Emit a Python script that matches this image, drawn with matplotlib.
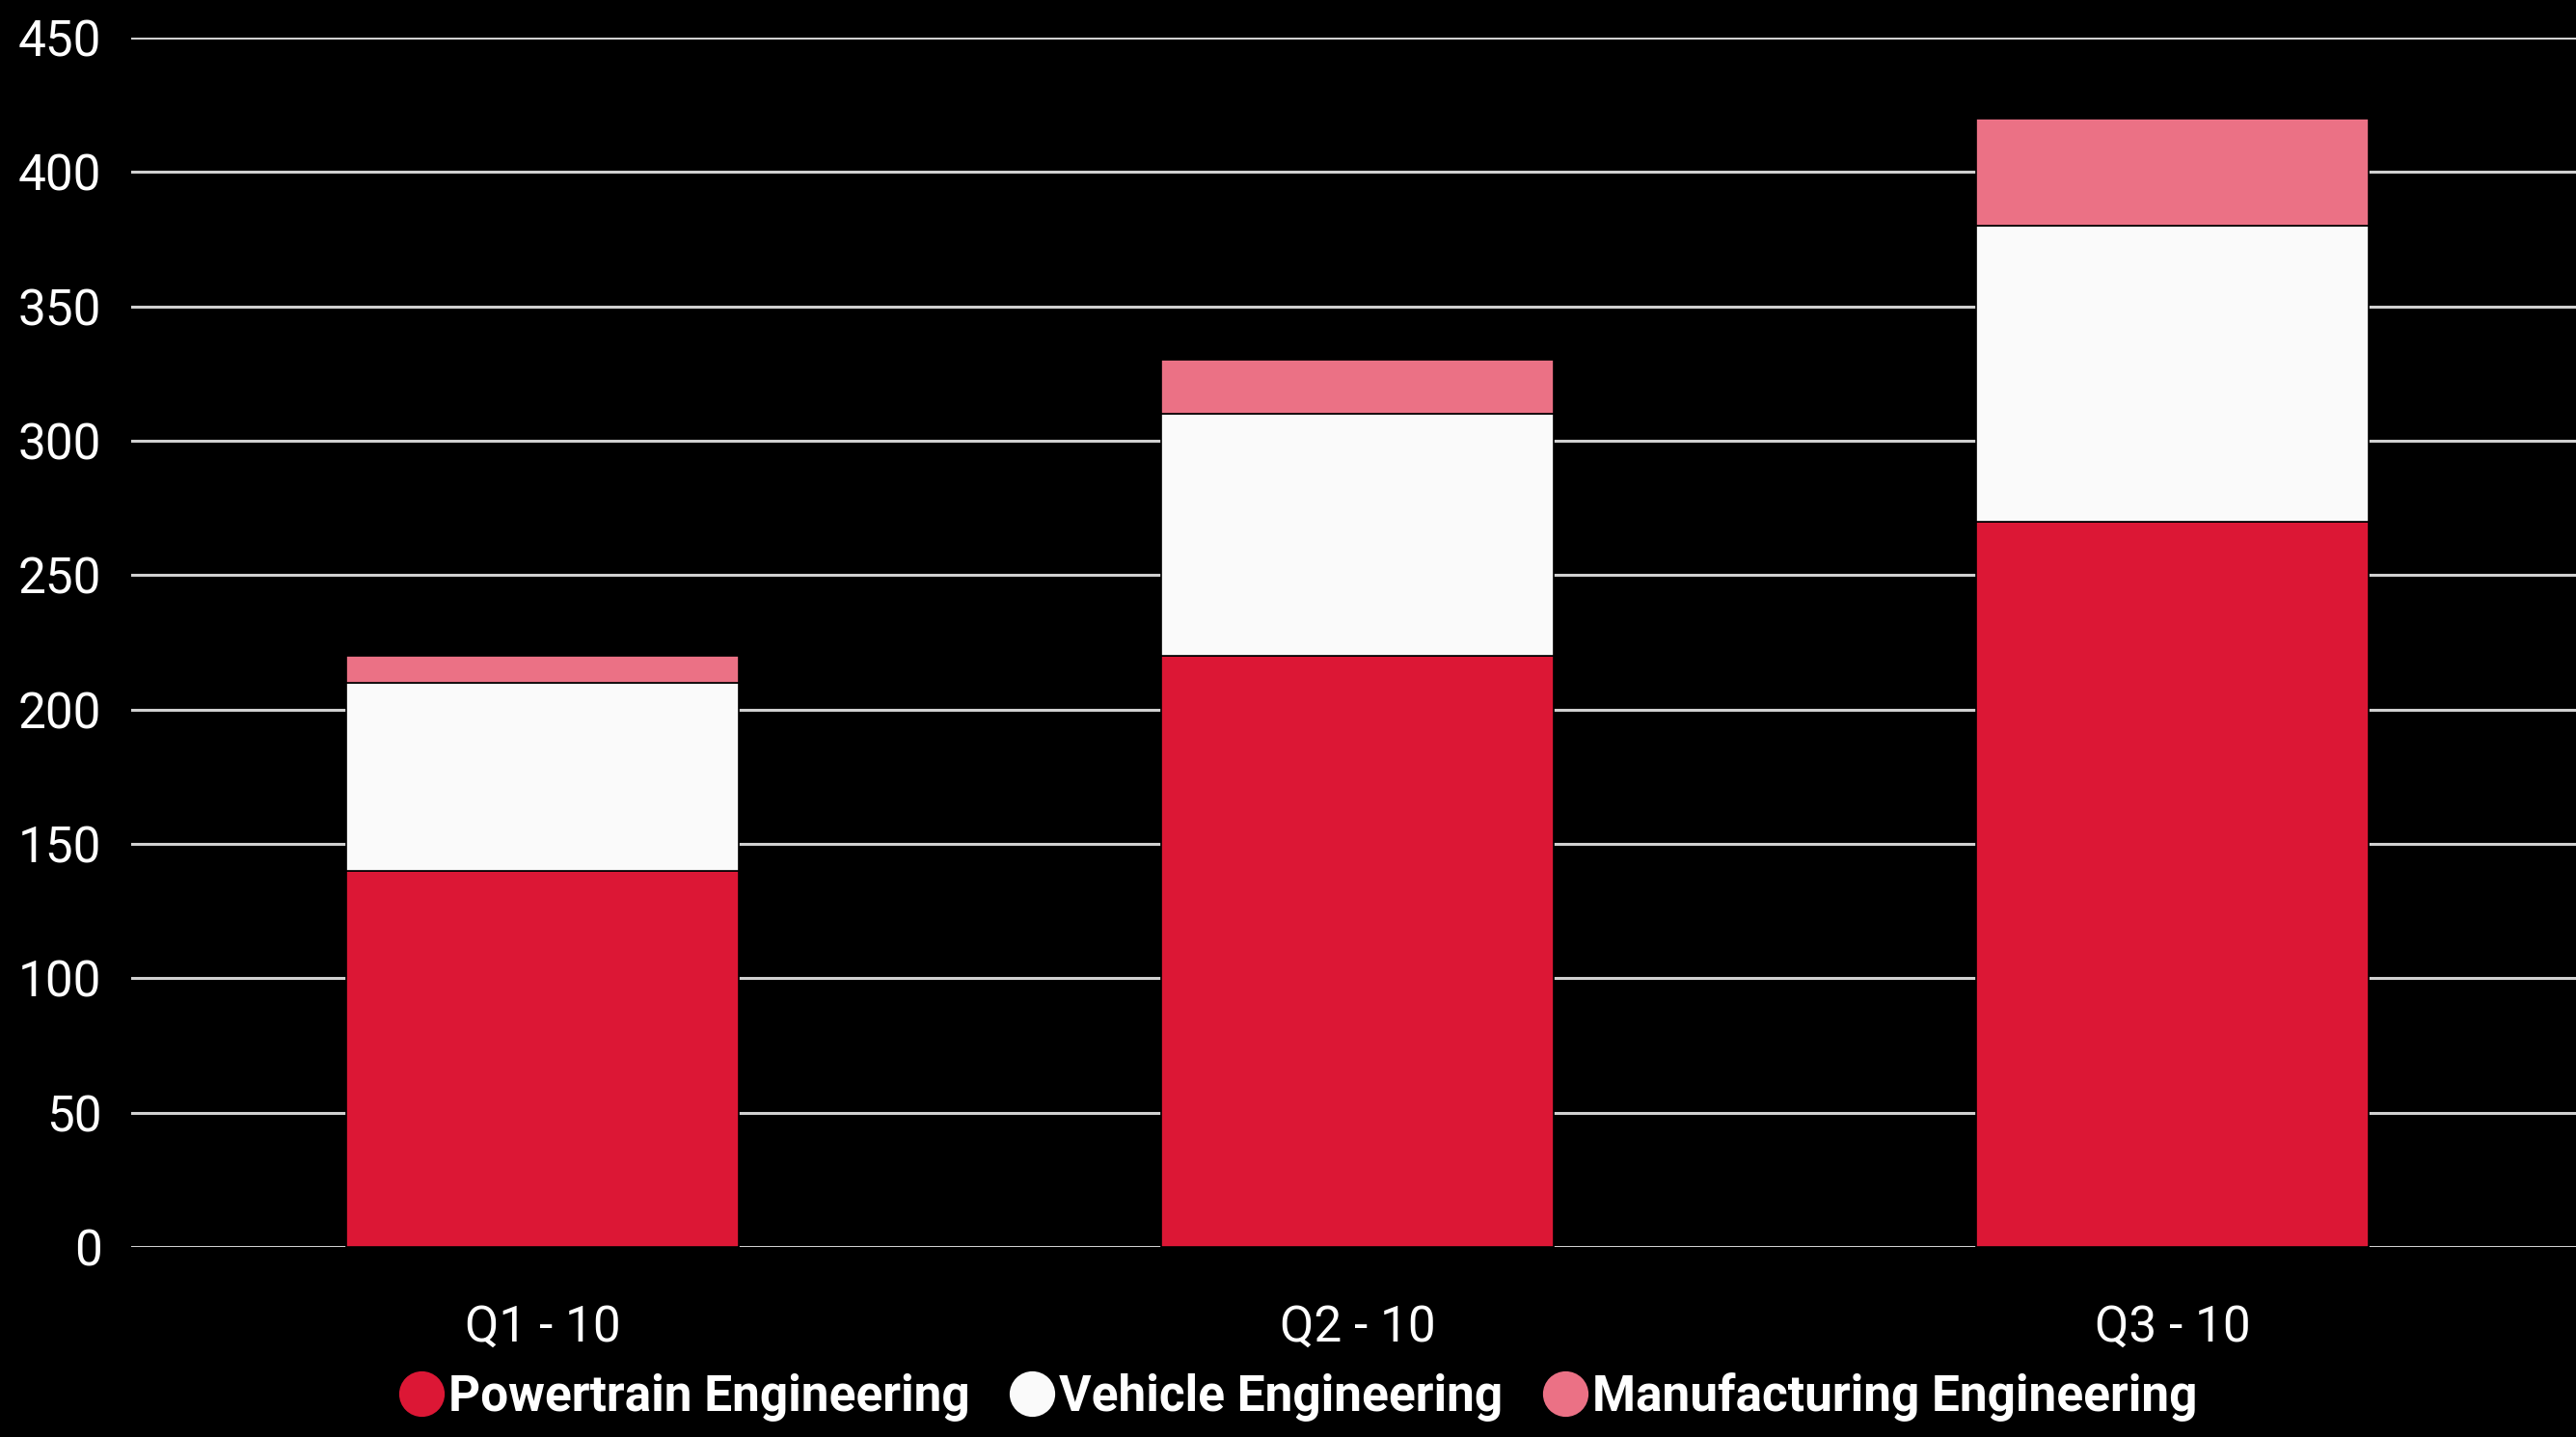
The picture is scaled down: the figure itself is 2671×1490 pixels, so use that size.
import matplotlib
matplotlib.use("Agg")
import matplotlib.pyplot as plt
from matplotlib.lines import Line2D
import numpy as np

# data
quarters = ["Q1 - 10", "Q2 - 10", "Q3 - 10"]
powertrain = [140, 220, 270]
vehicle = [70, 90, 110]
manufacturing = [10, 20, 40]
series_names = ["Powertrain Engineering", "Vehicle Engineering", "Manufacturing Engineering"]
y_ticks = [0, 50, 100, 150, 200, 250, 300, 350, 400, 450]

colors = ["#DC1735", "#FAFAFA", "#EB7185"]

plt.rcParams["font.family"] = ["Roboto", "DejaVu Sans"]

fig = plt.figure(figsize=(13.355, 7.45), dpi=200, facecolor="black")
ax = fig.add_axes([0.0509, 0.1322, 0.9491, 0.8416])
ax.set_facecolor("black")

x = np.arange(len(quarters))
width = 0.482
bottom = np.zeros(len(quarters))
for vals, col in zip([powertrain, vehicle, manufacturing], colors):
    ax.bar(x, vals, width, bottom=bottom, color=col, edgecolor="black",
           linewidth=0.6, zorder=3)
    bottom += np.array(vals)

ax.set_xlim(-0.505, 2.495)
ax.set_ylim(0, 450)
ax.set_yticks(y_ticks)
ax.set_xticks(x)
ax.set_xticklabels(quarters)
ax.grid(axis="y", color="#D0D0D0", linewidth=1.1, zorder=0)
ax.set_axisbelow(True)
for s in ax.spines.values():
    s.set_visible(False)
ax.tick_params(axis="both", length=0, colors="white")
ax.tick_params(axis="y", pad=11, labelsize=18.5)
ax.tick_params(axis="x", pad=21, labelsize=18.5)

handles = [Line2D([], [], marker="o", linestyle="none", markersize=16,
                  markerfacecolor=c, markeredgecolor=c) for c in colors]
leg = fig.legend(handles, series_names, loc="center", ncol=3,
                 bbox_to_anchor=(0.502, 0.028), frameon=False,
                 handletextpad=-0.1, columnspacing=0.6, handlelength=1.3,
                 prop={"weight": "bold", "size": 18.5})
for t in leg.get_texts():
    t.set_color("white")

fig.savefig("out.png", dpi=200, facecolor="black")
